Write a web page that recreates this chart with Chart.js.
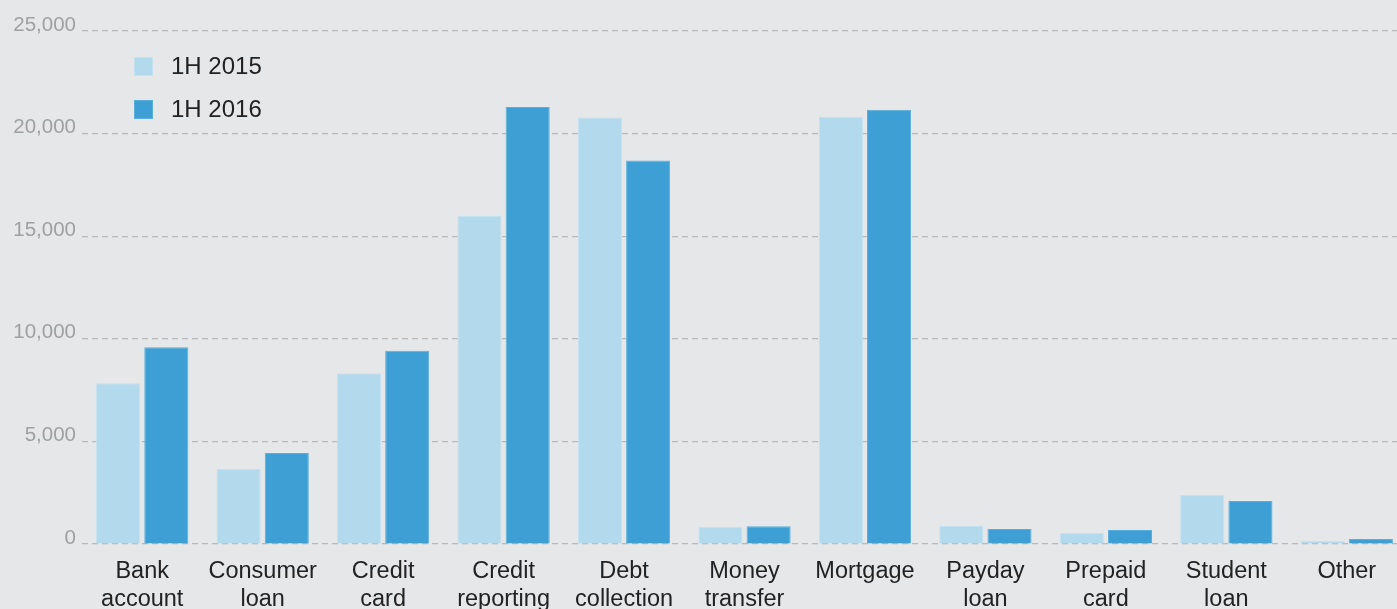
<!DOCTYPE html>
<html>
<head>
<meta charset="utf-8">
<script src="https://cdn.jsdelivr.net/npm/chart.js@4/dist/chart.umd.min.js"></script>
<style>
  html, body { margin: 0; padding: 0; background: #e6e7e9; overflow: hidden; }
  .wrap { position: relative; width: 1407px; height: 609px; }
  .legend { position: absolute; left: 134px; top: 55px; font-family: "Liberation Sans", Arial, sans-serif; font-size: 24px; color: #222; }
  .legend-row { display: flex; align-items: center; height: 22px; margin-bottom: 21px; }
  .legend-sw { width: 19px; height: 19px; margin-right: 18px; box-sizing: border-box; }
</style>
</head>
<body>
<div class="wrap">
  <canvas id="chart"></canvas>
  <div class="legend" id="legend"></div>
</div>
<script>
const categories = [
  ['Bank', 'account'], ['Consumer', 'loan'], ['Credit', 'card'], ['Credit', 'reporting'],
  ['Debt', 'collection'], ['Money', 'transfer'], 'Mortgage', ['Payday', 'loan'],
  ['Prepaid', 'card'], ['Student', 'loan'], 'Other'
];
const seriesNames = ['1H 2015', '1H 2016'];
const values2015 = [7830, 3650, 8320, 15980, 20790, 830, 20820, 880, 530, 2390, 150];
const values2016 = [9590, 4434, 9414, 21300, 18690, 870, 21160, 730, 680, 2100, 240];
const yTicks = [0, 5000, 10000, 15000, 20000, 25000];
const colors = ['#b3d9ed', '#3d9fd3'];
const borders = ['#c3e1f1', '#5aaedb'];

document.getElementById('legend').innerHTML = seriesNames.map((n, i) =>
  `<div class="legend-row"><span class="legend-sw" style="background:${colors[i]};border:1px solid ${borders[i]}"></span>${n}</div>`
).join('');

new Chart(document.getElementById('chart'), {
  type: 'bar',
  data: {
    labels: categories,
    datasets: [
      { label: seriesNames[0], data: values2015, backgroundColor: colors[0], borderColor: borders[0], borderWidth: 1 },
      { label: seriesNames[1], data: values2016, backgroundColor: colors[1], borderColor: borders[1], borderWidth: 1 }
    ]
  },
  options: {
    responsive: true, maintainAspectRatio: false, animation: false,
    layout: { padding: { top: 31, left: 0, right: 0, bottom: 0 } },
    categoryPercentage: 0.8, barPercentage: 0.915,
    plugins: { legend: { display: false }, tooltip: { enabled: false } },
    scales: {
      x: {
        grid: { display: false, drawTicks: false },
        border: { display: false },
        ticks: { color: '#222', font: { family: '"Liberation Sans", Arial, sans-serif', size: 23.5, lineHeight: 1.17 }, padding: 14, maxRotation: 0, autoSkip: false },
        afterFit: s => { s.height = 65; }
      },
      y: {
        min: 0, max: 25000,
        afterBuildTicks: s => { s.ticks = yTicks.map(v => ({ value: v })); },
        grid: { color: '#b8b9bb', lineWidth: 1.2, drawTicks: false },
        border: { display: false, dash: [6, 4] },
        ticks: {
          color: '#a0a0a2', padding: 6, labelOffset: -6,
          font: { family: '"Liberation Sans", Arial, sans-serif', size: 20.5 },
          callback: v => v.toLocaleString('en-US')
        },
        afterFit: s => { s.width = 82; }
      }
    }
  }
});
</script>
</body>
</html>
